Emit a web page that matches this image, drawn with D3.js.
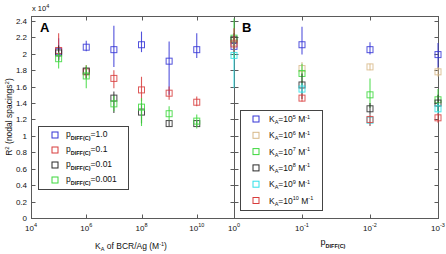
<!DOCTYPE html>
<html>
<head>
<meta charset="utf-8">
<script src="https://cdn.jsdelivr.net/npm/d3@7"></script>
<style>
  body { margin: 0; background: #fff; }
  svg { display: block; font-family: "Liberation Sans", Arial, sans-serif; }
</style>
</head>
<body>
<script>
// ---- data (R^2 in units of 1e4 nodal spacings^2) ----
const kaValues = [1e5, 1e6, 1e7, 1e8, 1e9, 1e10];
const pNames = ['1.0', '0.1', '0.01', '0.001'];
const pColors = ['#3434d6', '#d83c3c', '#2a2a2a', '#3cd83c'];

const pMean = [
    [2.03, 2.08, 2.05, 2.11, 1.91, 2.05],
    [2.04, 1.78, 1.70, 1.56, 1.52, 1.41],
    [2.01, 1.79, 1.46, 1.29, 1.15, 1.15],
    [1.94, 1.73, 1.39, 1.35, 1.27, 1.18]
];
const pLow = [
    [1.91, 2.03, 1.84, 2.02, 1.50, 1.95],
    [1.92, 1.70, 1.58, 1.42, 1.44, 1.36],
    [1.93, 1.70, 1.28, 1.15, 1.12, 1.12],
    [1.82, 1.58, 1.30, 1.12, 1.19, 1.09]
];
const pHigh = [
    [2.19, 2.16, 2.34, 2.27, 2.15, 2.25],
    [2.25, 1.86, 1.80, 1.72, 1.60, 1.48],
    [2.10, 1.84, 1.54, 1.40, 1.18, 1.18],
    [2.02, 1.86, 1.49, 1.46, 1.36, 1.26]
];

const pValues = [1, 0.1, 0.01, 0.001];
const kaExps = ['5', '6', '7', '8', '9', '10'];
const kaColors = ['#3434d6', '#d8b888', '#3cd83c', '#2a2a2a', '#30e0e8', '#d83c3c'];

const kMean = [
    [2.09, 2.11, 2.05, 1.99],
    [2.14, 1.82, 1.84, 1.78],
    [2.19, 1.76, 1.50, 1.44],
    [2.17, 1.62, 1.33, 1.40],
    [1.98, 1.57, 1.19, 1.33],
    [2.12, 1.46, 1.20, 1.22]
];
const kLow = [
    [2.00, 1.99, 1.99, 1.82],
    [2.05, 1.72, 1.80, 1.72],
    [1.95, 1.62, 1.34, 1.30],
    [2.05, 1.45, 1.26, 1.30],
    [1.58, 1.50, 1.12, 1.26],
    [2.02, 1.42, 1.12, 1.16]
];
const kHigh = [
    [2.20, 2.33, 2.14, 2.13],
    [2.22, 1.90, 1.88, 1.84],
    [2.43, 1.88, 1.70, 1.57],
    [2.25, 1.76, 1.40, 1.50],
    [2.17, 1.64, 1.26, 1.40],
    [2.31, 1.52, 1.26, 1.28]
];

const yTicks = [0, 0.2, 0.4, 0.6, 0.8, 1, 1.2, 1.4, 1.6, 1.8, 2, 2.2, 2.4];
const xTicksA = [1e4, 1e6, 1e8, 1e10];
const xTickExpA = ['4', '6', '8', '10'];
const xTicksB = [1, 0.1, 0.01, 0.001];
const xTickExpB = ['0', '-1', '-2', '-3'];

// ---- layout ----
const W = 446, H = 254;
const plotTop = 16, plotBottom = 218;
const leftA = 31, mid = 234, rightB = 438;

const svg = d3.select('body').append('svg')
    .attr('width', W)
    .attr('height', H);

const y = d3.scaleLinear().domain([0, 2.46]).range([plotBottom, plotTop]);
const xA = d3.scaleLog().domain([1e4, 1e12]).range([leftA, 252]);
const xB = d3.scaleLog().domain([1, 0.001]).range([mid, rightB]);

const axisColor = '#5a5a5a';
const tickLen = 4;

// frames
function frame(x0, x1) {
    svg.append('rect')
        .attr('x', x0 + 0.5)
        .attr('y', plotTop + 0.5)
        .attr('width', x1 - x0)
        .attr('height', plotBottom - plotTop)
        .attr('fill', 'none')
        .attr('stroke', axisColor)
        .attr('stroke-width', 1);
}
frame(leftA, mid);
frame(mid, rightB);

// y ticks on all vertical edges
const yEdges = [[leftA, 1], [mid, -1], [mid, 1], [rightB, -1]];
yEdges.forEach(e => {
    svg.selectAll(null)
        .data(yTicks)
        .enter()
        .append('line')
        .attr('x1', e[0] + 0.5)
        .attr('x2', e[0] + 0.5 + e[1] * tickLen)
        .attr('y1', d => Math.round(y(d)) + 0.5)
        .attr('y2', d => Math.round(y(d)) + 0.5)
        .attr('stroke', axisColor);
});

// y tick labels
svg.selectAll(null)
    .data(yTicks)
    .enter()
    .append('text')
    .attr('x', leftA - 4)
    .attr('y', d => y(d) + 3)
    .attr('text-anchor', 'end')
    .attr('font-size', 8)
    .attr('fill', '#111')
    .text(d => String(+d.toFixed(1)));

// x10^4 multiplier
const mult = svg.append('text')
    .attr('x', leftA + 1)
    .attr('y', 11)
    .attr('font-size', 7.5)
    .attr('fill', '#111');
mult.append('tspan').text('x 10');
mult.append('tspan').attr('dy', -3).attr('font-size', 5.5).text('4');

// x ticks (bottom and top)
function xTicks(scale, vals) {
    [[plotBottom, -1], [plotTop, 1]].forEach(e => {
        svg.selectAll(null)
            .data(vals)
            .enter()
            .append('line')
            .attr('x1', d => Math.round(scale(d)) + 0.5)
            .attr('x2', d => Math.round(scale(d)) + 0.5)
            .attr('y1', e[0] + 0.5)
            .attr('y2', e[0] + 0.5 + e[1] * tickLen)
            .attr('stroke', axisColor);
    });
}
xTicks(xA, xTicksA);
xTicks(xB, xTicksB);

function xLabels(scale, vals, exps) {
    const t = svg.selectAll(null)
        .data(vals)
        .enter()
        .append('text')
        .attr('x', d => scale(d))
        .attr('y', 231)
        .attr('text-anchor', 'middle')
        .attr('font-size', 8)
        .attr('fill', '#111');
    t.append('tspan').text('10');
    t.append('tspan')
        .attr('dy', -4)
        .attr('font-size', 5.5)
        .text((d, i) => exps[i]);
}
xLabels(xA, xTicksA, xTickExpA);
xLabels(xB, xTicksB, xTickExpB);

// axis titles
const yl = svg.append('text')
    .attr('transform', 'translate(12,' + (plotTop + plotBottom) / 2 + ') rotate(-90)')
    .attr('text-anchor', 'middle')
    .attr('font-size', 8.5)
    .attr('fill', '#111');
yl.append('tspan').text('R');
yl.append('tspan').attr('dy', -3).attr('font-size', 6).text('2');
yl.append('tspan').attr('dy', 3).text(' (nodal spacings');
yl.append('tspan').attr('dy', -3).attr('font-size', 6).text('2');
yl.append('tspan').attr('dy', 3).text(')');

const xlA = svg.append('text')
    .attr('x', 131)
    .attr('y', 249)
    .attr('text-anchor', 'middle')
    .attr('font-size', 8.5)
    .attr('fill', '#111');
xlA.append('tspan').text('K');
xlA.append('tspan').attr('dy', 2).attr('font-size', 5.5).text('A');
xlA.append('tspan').attr('dy', -2).text(' of BCR/Ag (M');
xlA.append('tspan').attr('dy', -3).attr('font-size', 5.5).text('-1');
xlA.append('tspan').attr('dy', 3).text(')');

const xlB = svg.append('text')
    .attr('x', 333)
    .attr('y', 245)
    .attr('text-anchor', 'middle')
    .attr('font-size', 9)
    .attr('fill', '#111');
xlB.append('tspan').text('p');
xlB.append('tspan').attr('dy', 2.5).attr('font-size', 5.5).attr('font-weight', 'bold').text('DIFF(C)');

// panel letters
svg.append('text').attr('x', 40).attr('y', 32).attr('font-size', 13)
    .attr('font-weight', 'bold').text('A');
svg.append('text').attr('x', 242).attr('y', 32).attr('font-size', 13)
    .attr('font-weight', 'bold').text('B');

// series drawing
const sq = 6;
function drawSeries(xScale, xs, mean, lo, hi, color) {
    const g = svg.append('g');
    g.selectAll(null)
        .data(xs)
        .enter()
        .append('line')
        .attr('x1', d => xScale(d))
        .attr('x2', d => xScale(d))
        .attr('y1', (d, i) => y(lo[i]))
        .attr('y2', (d, i) => y(hi[i]))
        .attr('stroke', color)
        .attr('stroke-opacity', 0.85)
        .attr('stroke-width', 1.1);
    g.selectAll(null)
        .data(xs)
        .enter()
        .append('rect')
        .attr('x', d => xScale(d) - sq / 2)
        .attr('y', (d, i) => y(mean[i]) - sq / 2)
        .attr('width', sq)
        .attr('height', sq)
        .attr('fill', 'none')
        .attr('stroke', color)
        .attr('stroke-opacity', 0.85)
        .attr('stroke-width', 1);
}

pMean.forEach((m, i) => drawSeries(xA, kaValues, m, pLow[i], pHigh[i], pColors[i]));
kMean.forEach((m, i) => drawSeries(xB, pValues, m, kLow[i], kHigh[i], kaColors[i]));

// legend A
svg.append('rect')
    .attr('x', 38.5).attr('y', 126.5)
    .attr('width', 90).attr('height', 63)
    .attr('fill', '#fff').attr('stroke', '#444');
pNames.forEach((n, i) => {
    const ly = 135 + i * 15;
    svg.append('rect')
        .attr('x', 52).attr('y', ly - 3)
        .attr('width', sq).attr('height', sq)
        .attr('fill', 'none').attr('stroke', pColors[i]);
    const t = svg.append('text')
        .attr('x', 66).attr('y', ly + 2)
        .attr('font-size', 8.5).attr('fill', '#111');
    t.append('tspan').text('p');
    t.append('tspan').attr('dy', 2.5).attr('font-size', 5.5).attr('font-weight', 'bold').text('DIFF(C)');
    t.append('tspan').attr('dy', -2.5).text('=' + n);
});

// legend B
svg.append('rect')
    .attr('x', 240.5).attr('y', 110.5)
    .attr('width', 82).attr('height', 100)
    .attr('fill', '#fff').attr('stroke', '#444');
kaExps.forEach((e, i) => {
    const ly = 119 + i * 16.3;
    svg.append('rect')
        .attr('x', 253).attr('y', ly - 3)
        .attr('width', sq).attr('height', sq)
        .attr('fill', 'none').attr('stroke', kaColors[i]);
    const t = svg.append('text')
        .attr('x', 269).attr('y', ly + 3)
        .attr('font-size', 8.5).attr('fill', '#111');
    t.append('tspan').text('K');
    t.append('tspan').attr('dy', 2).attr('font-size', 5.5).text('A');
    t.append('tspan').attr('dy', -2).text('=10');
    t.append('tspan').attr('dy', -3.5).attr('font-size', 5.5).text(e);
    t.append('tspan').attr('dy', 3.5).text(' M');
    t.append('tspan').attr('dy', -3.5).attr('font-size', 5.5).text('-1');
});
</script>
</body>
</html>
